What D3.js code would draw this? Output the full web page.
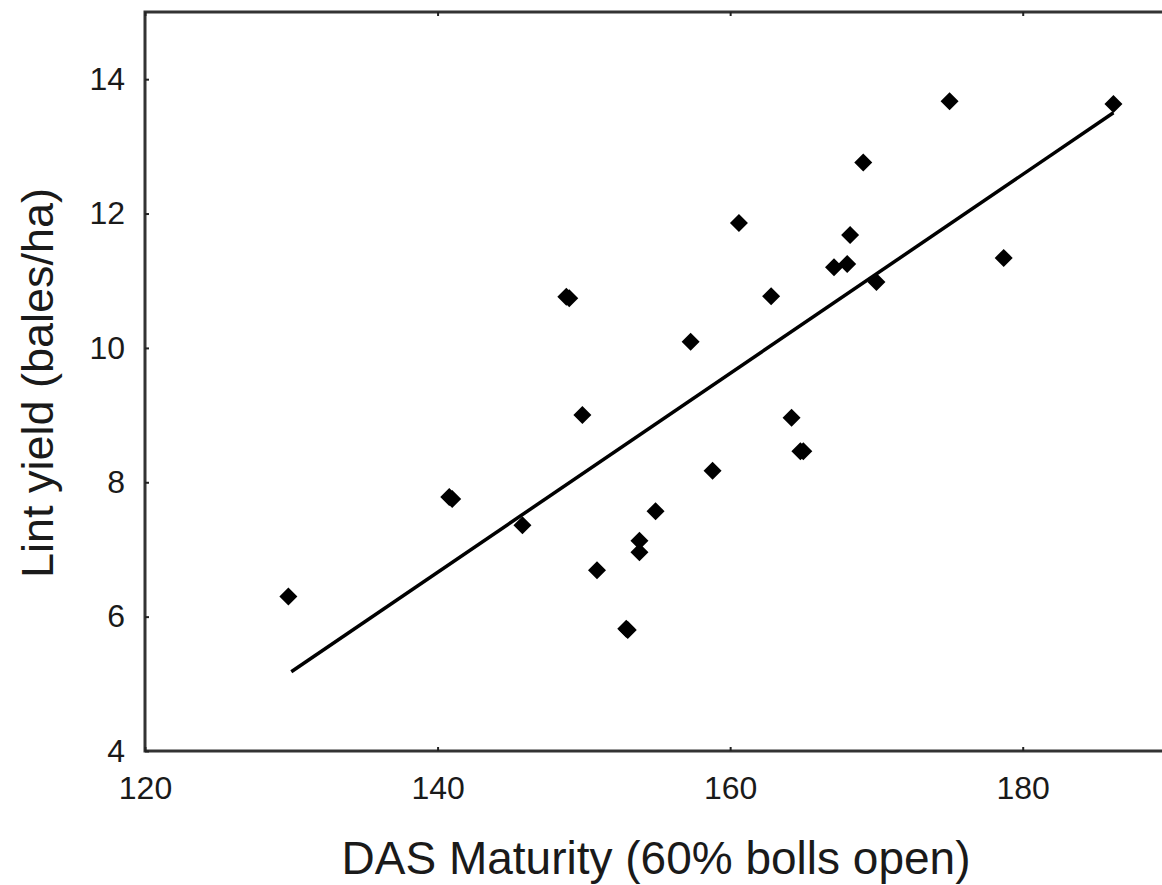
<!DOCTYPE html>
<html>
<head>
<meta charset="utf-8">
<script src="https://cdn.jsdelivr.net/npm/d3@7"></script>
<style>
  body { margin: 0; background: #fff; }
  text { font-family: "Liberation Sans", Arial, sans-serif; fill: #1a1a1a; }
</style>
</head>
<body>
<svg id="chart" width="1162" height="885"></svg>
<script>
// days after sowing to 60% open bolls vs lint yield
const maturity = [129.8, 140.8, 141.0, 145.8, 148.8, 149.0, 149.9, 150.9, 152.9, 153.0,
    153.8, 153.8, 154.9, 157.3, 158.8, 160.6, 162.8, 164.2, 164.8, 165.0,
    167.1, 168.0, 168.2, 169.1, 170.0, 175.0, 178.7, 186.2];
const yieldBales = [6.30, 7.78, 7.75, 7.36, 10.76, 10.74, 9.00, 6.69, 5.82, 5.80,
    7.13, 6.96, 7.57, 10.09, 8.17, 11.86, 10.77, 8.96, 8.46, 8.46,
    11.20, 11.25, 11.68, 12.76, 10.98, 13.67, 11.34, 13.63];

// fitted line end points
const fitX = [130, 186.2];
const fitY = [5.18, 13.5];

const xTicks = [120, 140, 160, 180];
const yTicks = [4, 6, 8, 10, 12, 14];

const svg = d3.select('#chart');
const mLeft = 145, mTop = 12, mBottom = 751, mRight = 1169;

const x = d3.scaleLinear().domain([120, 190]).range([mLeft, mRight]);
const y = d3.scaleLinear().domain([4, 15]).range([mBottom, mTop]);

// frame
svg.append('rect')
    .attr('x', mLeft).attr('y', mTop)
    .attr('width', mRight - mLeft).attr('height', mBottom - mTop)
    .attr('fill', 'none')
    .attr('stroke', '#333')
    .attr('stroke-width', 3);

const axisStyle = g => {
    g.select('.domain').remove();
    g.selectAll('.tick line').attr('stroke', '#222').attr('stroke-width', 2);
    g.selectAll('.tick text').style('font-size', '32px').attr('fill', '#1a1a1a');
};

svg.append('g')
    .attr('transform', `translate(0,${mBottom})`)
    .call(d3.axisBottom(x).tickValues(xTicks).tickSizeInner(-4).tickSizeOuter(0).tickPadding(14))
    .call(axisStyle)
    .selectAll('.tick text').attr('dy', '1.05em');

svg.append('g')
    .attr('transform', `translate(${mLeft},0)`)
    .call(d3.axisLeft(y).tickValues(yTicks).tickSizeInner(-4).tickSizeOuter(0).tickPadding(20))
    .call(axisStyle);

svg.append('g')
    .attr('transform', `translate(0,${mTop})`)
    .call(d3.axisTop(x).tickValues(xTicks).tickSizeInner(-4).tickSizeOuter(0).tickFormat(''))
    .call(axisStyle);

// regression line
svg.append('line')
    .attr('x1', x(fitX[0])).attr('y1', y(fitY[0]))
    .attr('x2', x(fitX[1])).attr('y2', y(fitY[1]))
    .attr('stroke', '#000')
    .attr('stroke-width', 3.5);

// points
const pts = maturity.map((m, i) => ({m, v: yieldBales[i]}));
svg.append('g').selectAll('path')
    .data(pts)
    .enter()
    .append('path')
    .attr('transform', d => `translate(${x(d.m)},${y(d.v)})`)
    .attr('d', 'M0,-9L9,0L0,9L-9,0Z')
    .attr('fill', '#000');

// titles
svg.append('text')
    .attr('x', 656).attr('y', 874)
    .attr('text-anchor', 'middle')
    .style('font-size', '46px')
    .text('DAS Maturity (60% bolls open)');

svg.append('text')
    .attr('transform', 'translate(53,383) rotate(-90)')
    .attr('text-anchor', 'middle')
    .style('font-size', '45px')
    .text('Lint yield (bales/ha)');
</script>
</body>
</html>
